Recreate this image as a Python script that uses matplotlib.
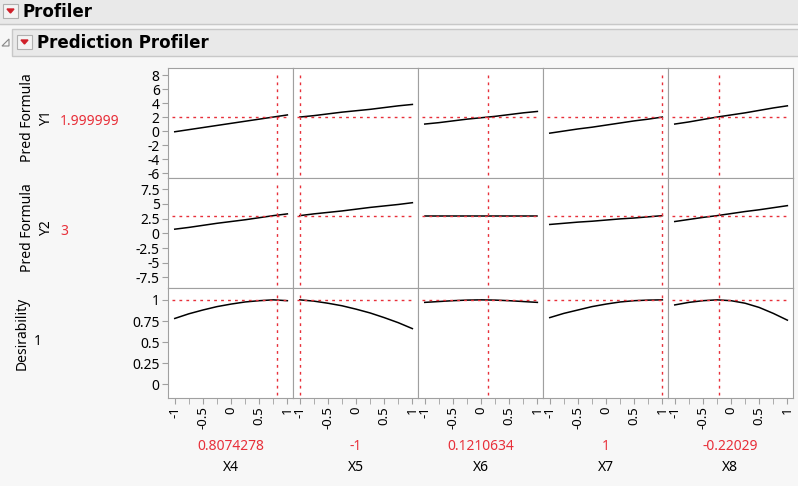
import matplotlib
matplotlib.use("Agg")
import matplotlib.pyplot as plt
import numpy as np

plt.rcParams['font.family'] = ['Noto Sans', 'DejaVu Sans']

factors = ["X4", "X5", "X6", "X7", "X8"]
settings = [0.8074278, -1, 0.1210634, 1, -0.22029]
setting_labels = ["0.8074278", "-1", "0.1210634", "1", "-0.22029"]
responses = ["Pred Formula\nY1", "Pred Formula\nY2", "Desirability"]
current_values = ["1.999999", "3", "1"]
current_y = [2.0, 3.0, 1.0]

x_grid = [-1, -0.75, -0.5, -0.25, 0, 0.25, 0.5, 0.75, 1]
y1_curves = [[-0.1, 0.2, 0.5, 0.8, 1.1, 1.4, 1.7, 2.0, 2.3],
             [2.0, 2.2, 2.45, 2.7, 2.9, 3.1, 3.35, 3.6, 3.8],
             [1.0, 1.2, 1.45, 1.7, 1.9, 2.1, 2.35, 2.6, 2.8],
             [-0.3, 0.0, 0.3, 0.55, 0.85, 1.15, 1.45, 1.7, 2.0],
             [1.0, 1.3, 1.65, 2.0, 2.3, 2.6, 2.95, 3.3, 3.6]]
y2_curves = [[0.7, 1.0, 1.35, 1.7, 2.0, 2.3, 2.65, 3.0, 3.3],
             [3.0, 3.3, 3.55, 3.8, 4.1, 4.4, 4.65, 4.9, 5.2],
             [3.0, 3.0, 3.0, 3.0, 3.0, 3.0, 3.0, 3.0, 3.0],
             [1.5, 1.7, 1.9, 2.05, 2.25, 2.45, 2.6, 2.8, 3.0],
             [2.0, 2.35, 2.7, 3.0, 3.35, 3.7, 4.0, 4.35, 4.7]]
des_curves = [[0.78, 0.835, 0.88, 0.92, 0.95, 0.975, 0.99, 1.0, 0.99],
              [1.0, 0.985, 0.96, 0.93, 0.89, 0.845, 0.79, 0.73, 0.66],
              [0.97, 0.98, 0.99, 0.997, 1.0, 0.997, 0.99, 0.98, 0.97],
              [0.79, 0.84, 0.88, 0.92, 0.95, 0.975, 0.99, 0.997, 1.0],
              [0.94, 0.97, 0.99, 1.0, 0.99, 0.96, 0.91, 0.84, 0.76]]
all_curves = [y1_curves, y2_curves, des_curves]

y_ticks = [[8, 6, 4, 2, 0, -2, -4, -6],
           [7.5, 5, 2.5, 0, -2.5, -5, -7.5],
           [1, 0.75, 0.5, 0.25, 0]]
y_ticklabels = [["8", "6", "4", "2", "0", "-2", "-4", "-6"],
                ["7.5", "5", "2.5", "0", "-2.5", "-5", "-7.5"],
                ["1", "0.75", "0.5", "0.25", "0"]]
y_lims = [(-6.7, 9.0), (-9.3, 9.4), (-0.16, 1.14)]
x_ticks = [-1, -0.5, 0, 0.5, 1]
x_ticklabels = ["-1", "-0.5", "0", "0.5", "1"]

W, H = 798, 486
fig = plt.figure(figsize=(W/100, H/100), dpi=100)
fig.patch.set_facecolor('#f7f7f7')
RED = '#e8303a'
GRID = '#a0a0a0'

def fx(px): return px / W
def fy(py): return 1 - py / H

bg = fig.add_axes([0, 0, 1, 1]); bg.set_axis_off(); bg.set_xlim(0, W); bg.set_ylim(H, 0)
bg.add_patch(plt.Rectangle((0, 0), W, 24, color='#e9e9e9'))
bg.plot([0, W], [24.5, 24.5], color='#c8c8c8', lw=1)
bg.add_patch(plt.Rectangle((12, 29), W, 27, facecolor='#e9e9e9', edgecolor='#c8c8c8', lw=1))
for (bx, by) in [(3, 4), (17, 35)]:
    bg.add_patch(plt.Rectangle((bx, by), 15, 14, facecolor='#f4f4f4', edgecolor='#b0b0b0', lw=0.8))
    bg.add_patch(plt.Polygon([(bx+4, by+5), (bx+11, by+5), (bx+7.5, by+9)], color='#d0202a'))
bg.add_patch(plt.Polygon([(2, 46), (9, 39), (9, 46)], facecolor='none', edgecolor='#888', lw=0.8))
bg.text(22, 12, "Profiler", fontsize=12, fontweight='bold', va='center', family=['DejaVu Sans'])
bg.text(37, 43, "Prediction Profiler", fontsize=12, fontweight='bold', va='center', family=['DejaVu Sans'])

col_left = 168
col_w = 125
row_top = [68, 178, 288]
row_h = 110
for r in range(3):
    for c in range(5):
        ax = fig.add_axes([fx(col_left + c*col_w), fy(row_top[r] + row_h), fx(col_w), row_h/H])
        ax.set_facecolor('white')
        ax.plot(x_grid, all_curves[r][c], color='black', lw=1.1)
        ax.axhline(current_y[r], xmin=0.03, xmax=0.97, color=RED, lw=1, ls=(0, (2, 3)))
        ax.axvline(settings[c], ymin=0.03, ymax=0.97, color=RED, lw=1, ls=(0, (2, 3)))
        ax.set_xlim(-1.12, 1.1)
        ax.set_ylim(*y_lims[r])
        for s in ax.spines.values():
            s.set_color(GRID)
        ax.set_xticks(x_ticks)
        ax.set_xticks([-0.75, -0.25, 0.25, 0.75], minor=True)
        if r == 2:
            ax.set_xticklabels(x_ticklabels, rotation=90, fontsize=9.5)
            ax.tick_params(axis='x', which='both', length=4, color=GRID, pad=2)
        else:
            ax.tick_params(axis='x', which='both', length=0, labelbottom=False)
        ax.set_yticks(y_ticks[r])
        if c == 0:
            ax.set_yticklabels(y_ticklabels[r], fontsize=10)
            ax.tick_params(axis='y', length=4, color=GRID, pad=2)
        else:
            ax.tick_params(axis='y', length=0, labelleft=False)
        if r == 2:
            ax.text(0.5, -0.44, setting_labels[c], transform=ax.transAxes, ha='center', va='center', color=RED, fontsize=10)
            ax.text(0.5, -0.63, factors[c], transform=ax.transAxes, ha='center', va='center', color='black', fontsize=10)

for r in range(3):
    cy = row_top[r] + row_h/2
    if r < 2:
        bg.text(37, cy - 5, responses[r], rotation=90, ha='center', va='center', fontsize=10, linespacing=1.4)
        bg.text(60, cy - 2, current_values[r], ha='left', va='center', color=RED, fontsize=10)
    else:
        bg.text(22, cy - 10, responses[r], rotation=90, ha='center', va='center', fontsize=10)
        bg.text(34, cy - 2, current_values[r], ha='left', va='center', color='black', fontsize=10)

fig.savefig("out.png", dpi=100, facecolor=fig.get_facecolor())
